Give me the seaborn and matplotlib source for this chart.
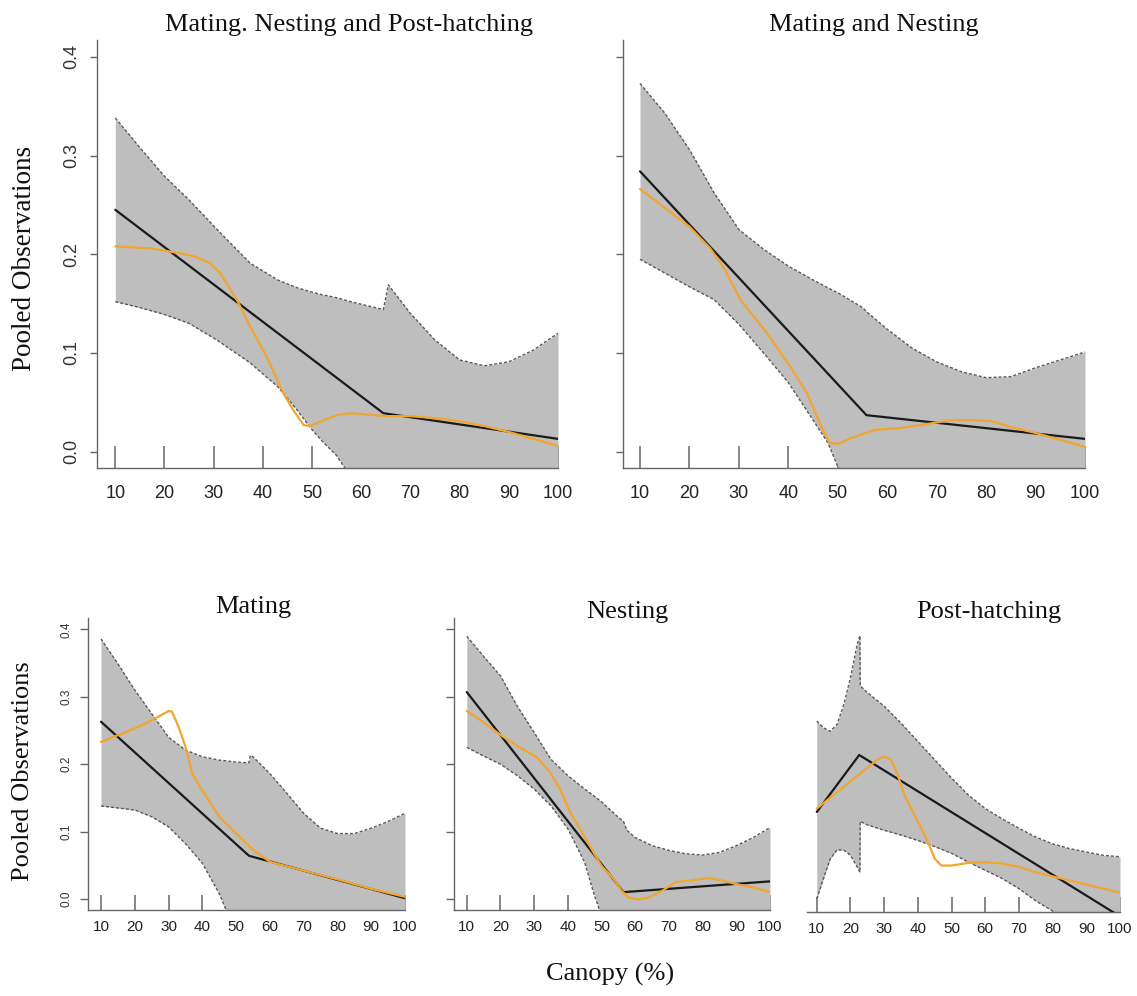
import numpy as np
import pandas as pd
import matplotlib
matplotlib.use("Agg")
import matplotlib.pyplot as plt
import seaborn as sns

# ---------------- data ----------------
titles = ["Mating. Nesting and Post-hatching", "Mating and Nesting", "Mating", "Nesting", "Post-hatching"]
y_ticks = [0.0, 0.1, 0.2, 0.3, 0.4]
y_tick_labels = ["0.0", "0.1", "0.2", "0.3", "0.4"]
x_ticks = [10, 20, 30, 40, 50, 60, 70, 80, 90, 100]

# Panel 1: Mating, Nesting and Post-hatching
p1_fit_x = [10, 64.5, 100]
p1_fit_y = [0.245, 0.039, 0.013]
p1_band_x = [10, 15, 20, 25, 30.7, 37.4, 43, 47, 49.7, 52, 55, 57.8, 64.5, 65.5, 70, 75, 80, 85, 90, 95, 100]
p1_upper = [0.338, 0.308, 0.279, 0.255, 0.225, 0.191, 0.174, 0.166, 0.162, 0.159, 0.156, 0.152, 0.144, 0.169, 0.140, 0.113, 0.093, 0.087, 0.091, 0.103, 0.120]
p1_lower = [0.152, 0.146, 0.139, 0.130, 0.113, 0.090, 0.066, 0.042, 0.024, 0.011, -0.004, -0.025, -0.060, -0.065, -0.080, -0.090, -0.100, -0.110, -0.120, -0.130, -0.140]
p1_smooth_x = [10, 17, 22, 26, 29.3, 31.3, 34.7, 37.4, 40.8, 44.2, 46.2, 48.3, 49.6, 51, 55, 58, 65, 70, 75, 80, 85, 90, 95, 100]
p1_smooth_y = [0.208, 0.206, 0.202, 0.198, 0.191, 0.181, 0.154, 0.127, 0.096, 0.059, 0.042, 0.027, 0.026, 0.029, 0.037, 0.039, 0.036, 0.036, 0.034, 0.031, 0.026, 0.020, 0.013, 0.006]

# Panel 2: Mating and Nesting
p2_fit_x = [10, 55.8, 100]
p2_fit_y = [0.284, 0.037, 0.013]
p2_band_x = [10, 15, 20, 25, 30, 35, 40, 45, 48, 50, 55, 56, 60, 65, 70, 75, 80, 85, 90, 95, 100]
p2_upper = [0.373, 0.343, 0.306, 0.262, 0.225, 0.205, 0.188, 0.174, 0.166, 0.161, 0.146, 0.141, 0.124, 0.105, 0.091, 0.081, 0.075, 0.076, 0.085, 0.093, 0.101]
p2_lower = [0.195, 0.181, 0.167, 0.154, 0.129, 0.100, 0.070, 0.032, 0.009, -0.015, -0.050, -0.055, -0.070, -0.090, -0.100, -0.110, -0.120, -0.130, -0.140, -0.150, -0.160]
p2_smooth_x = [10, 15, 20, 24.2, 27, 30.3, 35.7, 40.4, 43.8, 46.7, 48.3, 50.1, 52.8, 57.4, 62.6, 68, 73, 77, 81, 85, 90, 95, 100]
p2_smooth_y = [0.266, 0.247, 0.228, 0.206, 0.186, 0.154, 0.120, 0.086, 0.059, 0.025, 0.009, 0.008, 0.014, 0.022, 0.024, 0.028, 0.032, 0.032, 0.031, 0.025, 0.019, 0.012, 0.005]

# Panel 3: Mating
p3_fit_x = [10, 53.8, 100]
p3_fit_y = [0.263, 0.064, 0.001]
p3_band_x = [10, 15, 20, 25, 30, 35, 40, 45, 47, 50, 53.8, 54.2, 55, 60, 65, 70, 75, 80, 85, 90, 95, 100]
p3_upper = [0.386, 0.349, 0.310, 0.275, 0.240, 0.221, 0.211, 0.206, 0.205, 0.203, 0.202, 0.213, 0.211, 0.186, 0.157, 0.127, 0.105, 0.097, 0.097, 0.105, 0.115, 0.127]
p3_lower = [0.138, 0.135, 0.132, 0.122, 0.107, 0.082, 0.053, 0.008, -0.016, -0.040, -0.060, -0.062, -0.065, -0.080, -0.090, -0.100, -0.110, -0.120, -0.130, -0.140, -0.150, -0.160]
p3_smooth_x = [10, 15, 20, 25, 30, 31, 33, 35, 37, 40, 45, 50, 55, 60, 70, 80, 90, 100]
p3_smooth_y = [0.233, 0.243, 0.253, 0.265, 0.279, 0.278, 0.255, 0.226, 0.186, 0.161, 0.122, 0.097, 0.073, 0.055, 0.042, 0.029, 0.015, 0.003]

# Panel 4: Nesting
p4_fit_x = [10, 56.5, 100]
p4_fit_y = [0.307, 0.010, 0.026]
p4_band_x = [10, 15, 20, 25, 30, 35, 40, 45, 48, 49, 50, 55, 56.5, 57.5, 60, 65, 70, 75, 80, 85, 90, 95, 100]
p4_upper = [0.390, 0.360, 0.331, 0.286, 0.247, 0.207, 0.183, 0.163, 0.152, 0.148, 0.144, 0.121, 0.115, 0.102, 0.091, 0.079, 0.072, 0.067, 0.065, 0.069, 0.079, 0.091, 0.106]
p4_lower = [0.225, 0.212, 0.200, 0.183, 0.163, 0.138, 0.104, 0.054, 0.003, -0.010, -0.030, -0.060, -0.065, -0.070, -0.080, -0.090, -0.100, -0.110, -0.120, -0.130, -0.140, -0.150, -0.160]
p4_smooth_x = [10, 15, 20.4, 25, 30.8, 34.7, 37.7, 40.7, 43.6, 47.6, 50, 53.5, 56, 58, 61, 64, 68, 72, 76, 82, 86, 90, 95, 100]
p4_smooth_y = [0.279, 0.262, 0.242, 0.227, 0.210, 0.188, 0.163, 0.128, 0.104, 0.069, 0.049, 0.030, 0.012, 0.002, -0.001, 0.002, 0.012, 0.025, 0.027, 0.031, 0.027, 0.022, 0.017, 0.010]

# Panel 5: Post-hatching
p5_fit_x = [10, 22.6, 100]
p5_fit_y = [0.131, 0.215, -0.023]
p5_band_x = [10, 12, 14, 16, 18, 20, 22, 22.8, 22.9, 25, 30, 35, 40, 45, 50, 55, 60, 65, 70, 75, 80, 85, 90, 95, 100]
p5_upper = [0.265, 0.255, 0.250, 0.260, 0.289, 0.329, 0.378, 0.391, 0.317, 0.307, 0.287, 0.262, 0.235, 0.208, 0.181, 0.156, 0.136, 0.121, 0.107, 0.094, 0.084, 0.077, 0.072, 0.067, 0.065]
p5_lower = [0.003, 0.033, 0.062, 0.075, 0.075, 0.067, 0.050, 0.042, 0.117, 0.112, 0.104, 0.097, 0.089, 0.080, 0.070, 0.057, 0.045, 0.033, 0.018, 0.000, -0.015, -0.030, -0.045, -0.060, -0.075]
p5_smooth_x = [10, 15, 20, 25, 28, 30, 32, 34, 36, 40, 43, 45, 47, 50, 55, 60, 65, 70, 75, 80, 85, 90, 95, 100]
p5_smooth_y = [0.136, 0.156, 0.176, 0.196, 0.208, 0.213, 0.208, 0.186, 0.156, 0.117, 0.087, 0.062, 0.052, 0.052, 0.056, 0.057, 0.055, 0.050, 0.042, 0.036, 0.030, 0.024, 0.018, 0.012]

panels = [
    (p1_fit_x, p1_fit_y, p1_band_x, p1_upper, p1_lower, p1_smooth_x, p1_smooth_y),
    (p2_fit_x, p2_fit_y, p2_band_x, p2_upper, p2_lower, p2_smooth_x, p2_smooth_y),
    (p3_fit_x, p3_fit_y, p3_band_x, p3_upper, p3_lower, p3_smooth_x, p3_smooth_y),
    (p4_fit_x, p4_fit_y, p4_band_x, p4_upper, p4_lower, p4_smooth_x, p4_smooth_y),
    (p5_fit_x, p5_fit_y, p5_band_x, p5_upper, p5_lower, p5_smooth_x, p5_smooth_y),
]

# ---------------- style / layout ----------------
sns.set_style("ticks")
plt.rcParams["font.family"] = ["Liberation Sans", "DejaVu Sans"]
SERIF = ["Liberation Serif", "DejaVu Serif"]

W, H = 1137, 996
fig = plt.figure(figsize=(W / 100, H / 100), dpi=100)

# pixel boxes: (left, top, right, bottom)
boxes = [(97, 40, 558, 468), (623, 40, 1085, 468),
         (88, 618, 405, 910), (454, 618, 770, 910), (807, 618, 1120, 912)]
xlims = [(6.28, 100), (6.56, 100), (6.15, 100), (6.2, 100), (7.1, 100)]
YLIM = (-0.0165, 0.417)

FILL = "#BEBEBE"
EDGE = "#5a5a5a"
ORANGE = "#F2A62E"
AXC = "#666666"

for i, (box, (fx, fy, bx, up, lo, sx, sy)) in enumerate(zip(boxes, panels)):
    l, t, r, b = box
    ax = fig.add_axes([l / W, 1 - b / H, (r - l) / W, (b - t) / H])
    ax.fill_between(bx, lo, up, color=FILL, lw=0, zorder=1)
    ax.plot(bx, up, color=EDGE, lw=1.0, ls=(0, (2.2, 1.4)), zorder=1.2)
    ax.plot(bx, lo, color=EDGE, lw=1.0, ls=(0, (2.2, 1.4)), zorder=1.2)
    df_fit = pd.DataFrame({"x": fx, "y": fy})
    df_s = pd.DataFrame({"x": sx, "y": sy})
    sns.lineplot(data=df_fit, x="x", y="y", ax=ax, color="#1a1a1a", lw=1.6,
                 sort=False, estimator=None, zorder=3)
    sns.lineplot(data=df_s, x="x", y="y", ax=ax, color=ORANGE, lw=1.6,
                 sort=False, estimator=None, zorder=4)
    ax.set_xlim(*xlims[i])
    ax.set_ylim(*YLIM)
    ax.set_xlabel("")
    ax.set_ylabel("")
    ax.set_facecolor("none")
    for s in ["top", "right"]:
        ax.spines[s].set_visible(False)
    for s in ["left", "bottom"]:
        ax.spines[s].set_color(AXC)
        ax.spines[s].set_linewidth(1.0)
    ax.set_xticks(x_ticks)
    top = i < 2
    ax.tick_params(axis="x", direction="in", length=16 if top else 11, width=1.1,
                   color=AXC, labelsize=13 if top else 11, pad=12 if top else 7,
                   labelcolor="#222222")
    if i == 4:
        ax.spines["left"].set_visible(False)
        ax.set_yticks([])
    else:
        ax.set_yticks(y_ticks)
        ax.tick_params(axis="y", direction="out", length=5 if top else 6, width=1.0,
                       color=AXC, labelsize=13 if top else 8.5,
                       pad=7 if top else 5, labelcolor="#333333")
        if i in (0, 2):
            ax.set_yticklabels(y_tick_labels, rotation=90, va="center")
        else:
            ax.set_yticklabels([])

# titles
title_pos = [(349, 31), (874, 31), (253, 613), (627, 618), (989, 618)]
for (tx, ty), txt in zip(title_pos, titles):
    fig.text(tx / W, 1 - ty / H, txt, ha="center", va="baseline",
             fontsize=19, family=SERIF, color="#111111")

fig.text(25 / W, 1 - 258 / H, "Pooled Observations", rotation=90, ha="center",
         va="center", fontsize=19.5, family=SERIF, color="#111111")
fig.text(23 / W, 1 - 771 / H, "Pooled Observations", rotation=90, ha="center",
         va="center", fontsize=19, family=SERIF, color="#111111")
fig.text(610 / W, 1 - 974 / H, "Canopy (%)", ha="center", va="center",
         fontsize=19, family=SERIF, color="#111111")

fig.savefig("out.png", dpi=100)
